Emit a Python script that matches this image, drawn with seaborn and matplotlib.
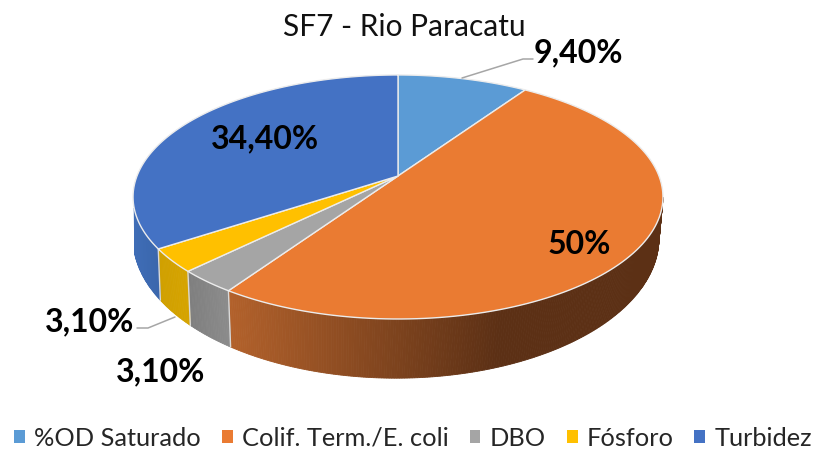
import numpy as np
import matplotlib
matplotlib.use("Agg")
import matplotlib.pyplot as plt
from matplotlib.path import Path
from matplotlib.patches import Patch
from matplotlib.transforms import Transform, Affine2D
from matplotlib.colors import to_rgb
import seaborn as sns

title = "SF7 - Rio Paracatu"
categories = ["%OD Saturado", "Colif. Term./E. coli", "DBO", "Fósforo", "Turbidez"]
values = [9.4, 50, 3.1, 3.1, 34.4]
value_labels = ["9,40%", "50%", "3,10%", "3,10%", "34,40%"]
top_colors = ["#5B9BD5", "#EA7B32", "#A5A5A5", "#FFC000", "#4472C4"]
wall_left = ["#5B9BD5", "#B2612B", "#7F7F7F", "#D0A000", "#3F6DB6"]
wall_right = ["#5B9BD5", "#5C3015", "#8C8C8C", "#D6A400", "#3A66AC"]

sns.set_theme(style="white")
FONT = "Lato"
plt.rcParams["font.family"] = [FONT, "DejaVu Sans"]

TOP = (398.0, 176.0, 261.0, 118.4, 0.172)
BOTTOM = (396.0, 217.0, 260.0, 137.0, 0.15)


def project(xy, p=TOP):
    cx, cy, a, b, k = p
    xy = np.asarray(xy, dtype=float)
    d = 1 + k * xy[:, 1]
    return np.column_stack([cx + a * xy[:, 0] / d, cy - b * xy[:, 1] / d])


class Tilt(Transform):
    input_dims = output_dims = 2

    def transform_non_affine(self, values):
        return project(values)

    def transform_path_non_affine(self, path):
        polys = path.to_polygons(transform=Affine2D().scale(1500), closed_only=False)
        verts, codes = [], []
        for p in polys:
            p = project(p / 1500)
            verts.append(p)
            c = np.full(len(p), Path.LINETO)
            c[0] = Path.MOVETO
            codes.append(c)
        return Path(np.vstack(verts), np.concatenate(codes))


fig = plt.figure(figsize=(8.13, 4.5), dpi=100)
ax = fig.add_axes([0, 0, 1, 1])

palette = sns.color_palette(top_colors)
wedges, _ = ax.pie(values, colors=palette, startangle=90, counterclock=False,
                   wedgeprops=dict(edgecolor="#ECECEC", linewidth=1.0))
ax.set_aspect("auto")
ax.set_xlim(0, 813)
ax.set_ylim(450, 0)
ax.axis("off")
tilt = Tilt() + ax.transData
for w in wedges:
    w.set_transform(tilt)
    w.set_zorder(5)

# side wall, running clockwise from 12 o'clock
edges = np.cumsum([0] + values) / sum(values) * 2 * np.pi
VIS0, VIS1 = np.radians(99.9), np.radians(255)
for i in range(len(values)):
    t0, t1 = max(edges[i], VIS0), min(edges[i + 1], VIS1)
    if t1 <= t0:
        continue
    n = max(int((t1 - t0) * 120), 3)
    ts = np.linspace(t0, t1, n + 1)
    uv = np.column_stack([np.sin(ts), np.cos(ts)])
    rim = project(uv)
    low = project(uv, BOTTOM)
    xmin, xmax = rim[:, 0].min(), rim[:, 0].max()
    c0, c1 = np.array(to_rgb(wall_left[i])), np.array(to_rgb(wall_right[i]))
    for j in range(n):
        xm = rim[j:j + 2, 0].mean()
        if i == 1:
            f = np.clip((xm - 230) / (500 - 230), 0, 1)
        else:
            f = (xm - xmin) / max(xmax - xmin, 1)
        col = c0 + (c1 - c0) * f
        ax.fill(np.r_[rim[j:j + 2, 0], low[j:j + 2, 0][::-1]],
                np.r_[rim[j:j + 2, 1], low[j:j + 2, 1][::-1]],
                facecolor=col, edgecolor=col, lw=0.6, zorder=2)
    if t0 == edges[i] and t0 > VIS0:
        ax.plot([rim[0, 0], low[0, 0]], [rim[0, 1], low[0, 1]], color="#D9D9D9", lw=1, zorder=3)

ax.text(404, 27, title, ha="center", va="center", fontsize=21.5, color="#111111")

label_style = dict(ha="center", va="center", fontsize=23, fontweight="bold", color="black", zorder=8)
ax.text(578, 53, value_labels[0], **label_style)
ax.text(579, 245, value_labels[1], **label_style)
ax.text(161, 372, value_labels[2], **label_style)
ax.text(90, 322, value_labels[3], **label_style)
ax.text(265, 139, value_labels[4], **label_style)

ax.plot([462, 523, 533], [78, 59, 59], color="#A6A6A6", lw=1.1, zorder=6)
ax.plot([175, 148, 137], [317, 328, 328], color="#A6A6A6", lw=1.1, zorder=6)

handles = [Patch(facecolor=c, edgecolor="none") for c in palette]
leg = ax.legend(handles, categories, loc="center", bbox_to_anchor=(413 / 813, 1 - 438 / 450),
                ncol=5, frameon=False, fontsize=18.3, handlelength=0.43, handleheight=0.43,
                handletextpad=0.35, columnspacing=0.83, borderpad=0, labelspacing=0)

fig.savefig("out.png", dpi=100)
